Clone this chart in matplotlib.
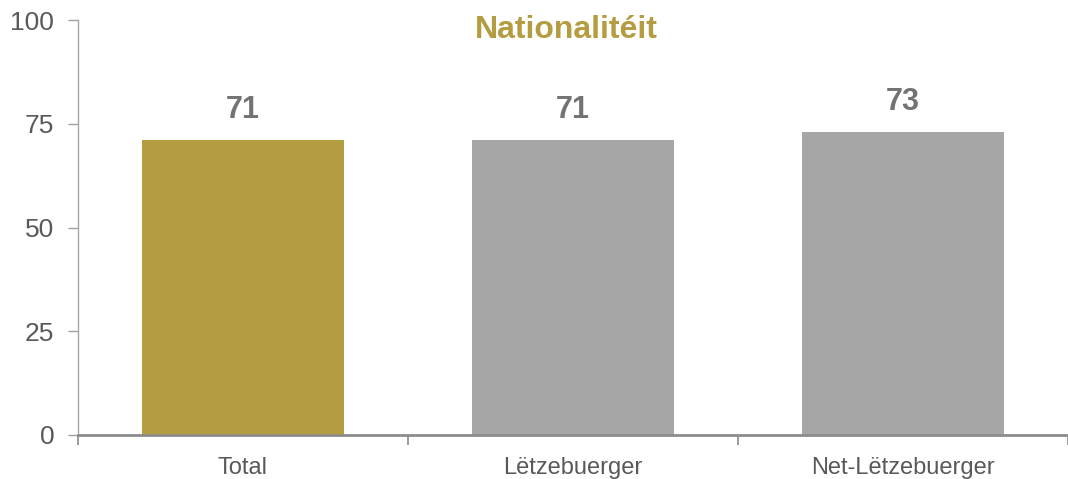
import numpy as np
import matplotlib.pyplot as plt

plt.rcParams['font.family'] = ['Liberation Sans', 'DejaVu Sans']

categories = ["Total", "Lëtzebuerger", "Net-Lëtzebuerger"]
values = [71, 71, 73]
colors = ["#B49C41", "#A6A6A6", "#A6A6A6"]
yticks = [0, 25, 50, 75, 100]

fig = plt.figure(figsize=(10.68, 4.79), dpi=100)
ax = fig.add_axes([0.073, 0.092, 0.927, 0.866])

x = np.arange(len(categories))
ax.bar(x, values, width=0.61, color=colors, zorder=2)

# value labels above bars
for xi, v in zip(x, values):
    ax.text(xi, v + 3.6, str(v), ha="center", va="bottom", fontsize=22,
            fontweight="bold", color="#737373")

ax.set_xlim(-0.5, len(categories) - 0.5)
ax.set_ylim(0, 100)
ax.set_yticks(yticks)
ax.set_yticklabels([str(t) for t in yticks])

# category labels centred, ticks on boundaries
ax.set_xticks(np.arange(len(categories) + 1) - 0.5)
ax.set_xticklabels([])
ax.set_xticks(x, minor=True)
ax.set_xticklabels(categories, minor=True)
ax.tick_params(axis="x", which="minor", length=0, pad=16, labelsize=17, labelcolor="#595959")
ax.tick_params(axis="x", which="major", length=7, width=1.2, color="#898989", direction="out")
ax.tick_params(axis="y", length=7, width=1, color="#A0A0A0", pad=10, labelsize=19,
               labelcolor="#595959")

for s in ["top", "right"]:
    ax.spines[s].set_visible(False)
ax.spines["left"].set_color("#A6A6A6")
ax.spines["left"].set_linewidth(1)
ax.spines["bottom"].set_color("#8C8C8C")
ax.spines["bottom"].set_linewidth(2)

ax.text(0.493, 0.975, "Nationalitéit", transform=ax.transAxes, ha="center", va="center",
        fontsize=23, fontweight="bold", color="#B49C41")

fig.savefig("out.png", dpi=100)
